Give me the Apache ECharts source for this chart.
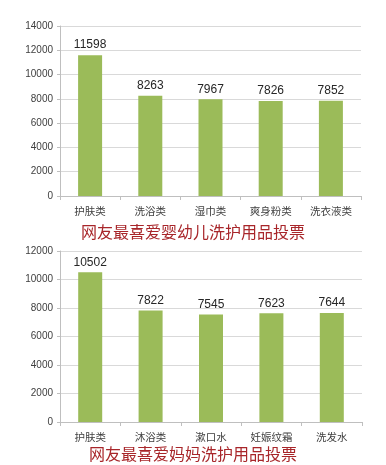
<!DOCTYPE html>
<html><head><meta charset="utf-8">
<script src="https://cdn.jsdelivr.net/npm/echarts@6/dist/echarts.min.js"></script>
<style>html,body{margin:0;padding:0;background:#fff}#c{width:386px;height:465px}</style>
</head><body><div id="c"></div>
<script>
const cats1 = ['护肤类','洗浴类','湿巾类','爽身粉类','洗衣液类'];
const vals1 = [11598, 8263, 7967, 7826, 7852];
const title1 = '网友最喜爱婴幼儿洗护用品投票';
const cats2 = ['护肤类','沐浴类','漱口水','妊娠纹霜','洗发水'];
const vals2 = [10502, 7822, 7545, 7623, 7644];
const title2 = '网友最喜爱妈妈洗护用品投票';

const chart = echarts.init(document.getElementById('c'), null, {renderer:'canvas'});
const font = "'Liberation Sans', Arial, 'Noto Sans CJK SC', sans-serif";
function xAxis(i, cats){
  return {type:'category', gridIndex:i, data:cats,
    axisLine:{lineStyle:{color:'#bfbfbf'}},
    axisTick:{show:true, alignWithLabel:false, length:4, lineStyle:{color:'#bfbfbf'}},
    axisLabel:{color:'#404040', fontSize:10.5, margin:10, fontFamily:"'Noto Sans CJK SC', sans-serif"}};
}
function yAxis(i, max){
  return {type:'value', gridIndex:i, min:0, max:max, interval:2000,
    axisLine:{show:true, lineStyle:{color:'#bfbfbf'}},
    axisTick:{show:true, length:3, lineStyle:{color:'#bfbfbf'}},
    splitLine:{lineStyle:{color:'#d9d9d9'}},
    axisLabel:{color:'#404040', fontSize:10, margin:7, fontFamily:font, formatter:v=>String(v)}};
}
function series(i, vals){
  return {type:'bar', xAxisIndex:i, yAxisIndex:i, data:vals, barWidth:24,
    itemStyle:{color:'#9bbb59'},
    label:{show:true, position:'top', distance:4, color:'#262626', fontSize:12, fontFamily:font}};
}
chart.setOption({
  animation:false,
  backgroundColor:'#fff',
  title:[
    {text:title1, left:'center', top:219, textStyle:{color:'#a8262a', fontSize:16, fontWeight:'normal', fontFamily:"'Noto Sans CJK SC', sans-serif"}},
    {text:title2, left:'center', top:441, textStyle:{color:'#a8262a', fontSize:16, fontWeight:'normal', fontFamily:"'Noto Sans CJK SC', sans-serif"}}
  ],
  grid:[
    {left:60, right:25, top:26, bottom:269},
    {left:60, right:24, top:251, bottom:43}
  ],
  xAxis:[xAxis(0,cats1), xAxis(1,cats2)],
  yAxis:[yAxis(0,14000), yAxis(1,12000)],
  series:[series(0,vals1), series(1,vals2)]
});
</script></body></html>
